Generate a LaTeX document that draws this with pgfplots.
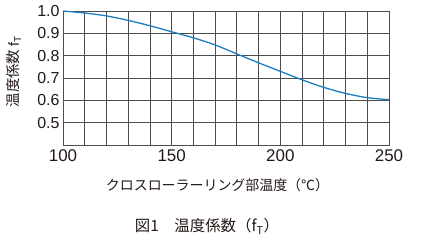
\documentclass[border=0pt]{standalone}
\usepackage{fontspec}
\usepackage{pgfplots}
\pgfplotsset{compat=1.18}
\setmainfont{Liberation Sans}
\newfontfamily\jp{Noto Sans CJK JP}
\definecolor{txt}{HTML}{231815}
\definecolor{grd}{HTML}{4E4E4E}
\definecolor{crv}{HTML}{1B7EC2}
\pgfplotstableread{
x y
100 1.000
110 0.991
120 0.978
130 0.958
140 0.934
150 0.907
160 0.880
170 0.848
180 0.808
190 0.768
200 0.730
210 0.692
220 0.658
230 0.631
240 0.612
250 0.603
}\curve
\begin{document}
\begin{tikzpicture}[x=1bp,y=1bp]
\path[use as bounding box] (-63,-95) rectangle (378,145);
\begin{axis}[
  at={(0,0)}, anchor=south west,
  scale only axis, width=326bp, height=134bp,
  xmin=100, xmax=250, ymin=0.4, ymax=1.0,
  xtick={100,150,200,250},
  minor xtick={110,120,130,140,160,170,180,190,210,220,230,240},
  ytick={0.5,0.6,0.7,0.8,0.9,1.0},
  minor ytick={0.4},
  grid=both,
  major grid style={grd, line width=0.75pt},
  minor grid style={grd, line width=0.75pt},
  axis line style={grd, line width=0.9pt},
  major tick length=0pt, minor tick length=0pt,
  /pgf/number format/assume math mode=true,
  yticklabel style={font=\fontsize{16}{17}\selectfont, text=txt, /pgf/number format/.cd, fixed, fixed zerofill, precision=1},
  xticklabel style={font=\fontsize{17}{18}\selectfont, text=txt, yshift=-1bp},
  every axis plot/.append style={line width=1.3pt},
  clip=false,
]
\addplot[crv, smooth, no marks] table[x=x,y=y] {\curve};
\end{axis}
\node[text=txt, rotate=90, font=\jp\fontsize{14.5}{16}\selectfont] at (-49,73.5) {温度係数 \fontspec{Liberation Sans}f\textsubscript{T}};
\node[text=txt, font=\jp\fontsize{14}{15}\selectfont] at (154.5,-40.5) {クロスローラーリング部温度（℃）};
\node[text=txt, font=\jp\fontsize{15.5}{16}\selectfont] at (144,-81.5) {図1　温度係数（f\textsubscript{T}）};
\end{tikzpicture}
\end{document}
